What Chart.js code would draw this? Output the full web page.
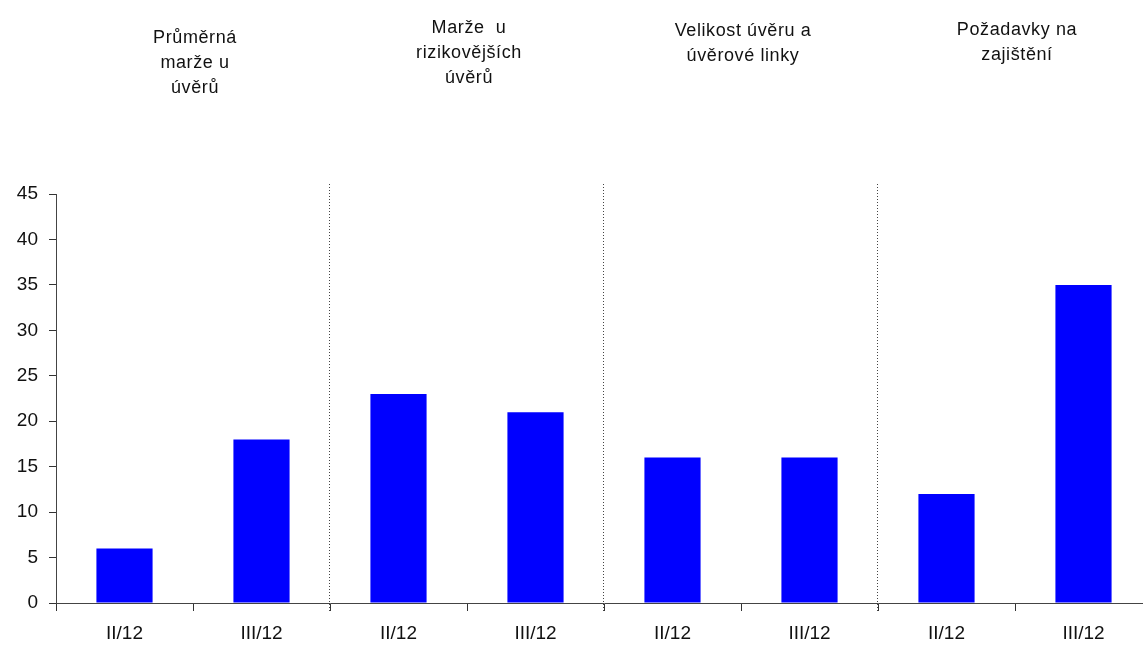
<!DOCTYPE html>
<html>
<head>
<meta charset="utf-8">
<script src="https://cdn.jsdelivr.net/npm/chart.js@4/dist/chart.umd.min.js"></script>
<style>
  body { margin: 0; background: #fff; overflow: hidden; }
  #wrap { width: 1160px; height: 646px; }
</style>
</head>
<body>
<div id="wrap"><canvas id="chart"></canvas></div>
<script>
const categories = ["II/12", "III/12", "II/12", "III/12", "II/12", "III/12", "II/12", "III/12"];
const values = [6, 18, 23, 21, 16, 16, 12, 35];
const groupLabels = [
  ["Průměrná", "marže u", "úvěrů"],
  ["Marže  u", "rizikovějších", "úvěrů"],
  ["Velikost úvěru a", "úvěrové linky"],
  ["Požadavky na", "zajištění"]
];
const yTicks = [0, 5, 10, 15, 20, 25, 30, 35, 40, 45];

const font = "Liberation Sans, Arial, sans-serif";
// baseline of the first line of each group title
const titleTop = [43, 33, 36, 35];

// Dotted separators between groups + group titles on top
const groupPlugin = {
  id: "groups",
  afterDraw(chart) {
    const ctx = chart.ctx;
    const area = chart.chartArea;
    const step = (area.right - area.left) / categories.length;
    ctx.save();
    ctx.strokeStyle = "#444";
    ctx.lineWidth = 1;
    ctx.setLineDash([1, 2]);
    for (let i = 2; i < categories.length; i += 2) {
      const px = Math.round(area.left + i * step) - 0.5;
      ctx.beginPath();
      ctx.moveTo(px, area.top - 10);
      ctx.lineTo(px, area.bottom + 9);
      ctx.stroke();
    }
    ctx.setLineDash([]);
    ctx.fillStyle = "#111";
    ctx.font = "18px " + font;
    ctx.letterSpacing = "0.6px";
    ctx.textAlign = "center";
    ctx.textBaseline = "alphabetic";
    groupLabels.forEach((lines, g) => {
      const cx = area.left + (g * 2 + 1) * step + 2;
      lines.forEach((t, j) => ctx.fillText(t, cx, titleTop[g] + j * 25));
    });
    ctx.restore();
  }
};

new Chart(document.getElementById("chart"), {
  type: "bar",
  data: {
    labels: categories,
    datasets: [{
      data: values,
      backgroundColor: "#0000ff",
      borderWidth: 0,
      barPercentage: 0.41,
      categoryPercentage: 1
    }]
  },
  options: {
    responsive: true,
    maintainAspectRatio: false,
    animation: false,
    layout: { padding: { top: 194, left: 0, right: 8, bottom: 0 } },
    plugins: { legend: { display: false }, tooltip: { enabled: false } },
    scales: {
      x: {
        offset: true,
        grid: { offset: true, drawOnChartArea: false, drawTicks: true, tickLength: 8, color: "#333" },
        border: { color: "#444", width: 1 },
        ticks: { color: "#111", font: { family: font, size: 19 }, padding: 11, maxRotation: 0, autoSkip: false },
        afterFit(scale) { scale.height = 43; }
      },
      y: {
        min: 0,
        max: 45,
        afterBuildTicks(scale) { scale.ticks = yTicks.map(v => ({ value: v })); },
        grid: { drawOnChartArea: false, drawTicks: true, tickLength: 7, color: "#333" },
        border: { color: "#444", width: 1 },
        ticks: { color: "#111", font: { family: font, size: 19 }, padding: 11 },
        afterFit(scale) { scale.width = 56; }
      }
    }
  },
  plugins: [groupPlugin]
});
</script>
</body>
</html>
